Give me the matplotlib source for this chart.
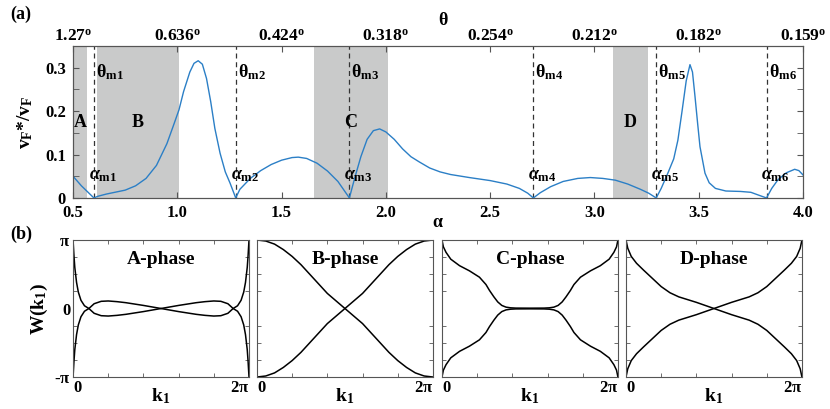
import numpy as np
import matplotlib
matplotlib.use("Agg")
import matplotlib.pyplot as plt
from matplotlib.ticker import MultipleLocator

plt.rcParams.update({
    "font.family": "Liberation Serif",
    "font.weight": "bold",
    "axes.labelweight": "bold",
    "mathtext.fontset": "custom",
    "mathtext.rm": "Liberation Serif:bold",
    "mathtext.it": "Liberation Serif:bold:italic",
    "mathtext.bf": "Liberation Serif:bold",
})

# ---- panel (a) data ----
alpha = [0.50, 0.54, 0.57, 0.60, 0.62, 0.66, 0.70, 0.75, 0.80, 0.85, 0.90, 0.95,
         0.98, 1.008, 1.03, 1.06, 1.08, 1.10, 1.12, 1.14, 1.16, 1.18, 1.205, 1.23,
         1.253, 1.28, 1.30, 1.35, 1.40, 1.45, 1.50, 1.55, 1.58, 1.62, 1.67, 1.72,
         1.77, 1.825, 1.85, 1.88, 1.91, 1.94, 1.97, 2.00, 2.04, 2.08, 2.12, 2.16,
         2.21, 2.26, 2.31, 2.40, 2.50, 2.58, 2.64, 2.68, 2.707, 2.74, 2.79, 2.85,
         2.92, 2.98, 3.04, 3.10, 3.16, 3.22, 3.26, 3.296, 3.32, 3.35, 3.38, 3.40,
         3.42, 3.44, 3.458, 3.47, 3.482, 3.495, 3.506, 3.53, 3.55, 3.58, 3.63,
         3.70, 3.75, 3.79, 3.825, 3.85, 3.88, 3.92, 3.96, 3.98, 4.00]
vf_ratio = [0.050, 0.028, 0.014, 0.000, 0.004, 0.009, 0.013, 0.018, 0.028, 0.045,
            0.075, 0.125, 0.165, 0.203, 0.245, 0.290, 0.310, 0.316, 0.308, 0.275,
            0.222, 0.160, 0.103, 0.060, 0.034, 0.000, 0.020, 0.045, 0.063, 0.077,
            0.087, 0.093, 0.094, 0.091, 0.080, 0.062, 0.038, 0.000, 0.045, 0.095,
            0.135, 0.155, 0.159, 0.152, 0.135, 0.113, 0.095, 0.083, 0.069, 0.060,
            0.054, 0.047, 0.040, 0.032, 0.022, 0.011, 0.000, 0.012, 0.026, 0.038,
            0.045, 0.047, 0.045, 0.041, 0.032, 0.020, 0.011, 0.000, 0.022, 0.055,
            0.090, 0.133, 0.200, 0.270, 0.307, 0.290, 0.234, 0.170, 0.118, 0.057,
            0.035, 0.022, 0.016, 0.015, 0.013, 0.006, 0.000, 0.022, 0.042, 0.058,
            0.066, 0.063, 0.053]

alpha_m = [0.60, 1.28, 1.825, 2.707, 3.296, 3.825]
phase_spans = [(0.5, 0.567), (0.613, 1.008), (1.657, 2.008), (3.089, 3.257)]
phase_names = ["A", "B", "C", "D"]
phase_label_x = [0.533, 0.81, 1.83, 3.17]

alpha_ticks = [0.5, 1.0, 1.5, 2.0, 2.5, 3.0, 3.5, 4.0]
theta_labels = ["1.27", "0.636", "0.424", "0.318", "0.254", "0.212", "0.182", "0.159"]

# ---- panel (b) data: W(k1)/pi for one band, other band is its mirror ----
k_frac = [0, 0.005, 0.01, 0.02, 0.03, 0.045, 0.065, 0.09, 0.12, 0.16, 0.2, 0.25,
          0.3, 0.4, 0.5, 0.6, 0.7, 0.75, 0.8, 0.84, 0.88, 0.91, 0.935, 0.955,
          0.97, 0.98, 0.99, 0.995, 1.0]
w_A = [1.0, 0.78, 0.6, 0.38, 0.24, 0.12, 0.04, 0.0, -0.07, -0.105, -0.11, -0.1,
       -0.085, -0.045, 0.0, 0.045, 0.085, 0.1, 0.11, 0.105, 0.07, 0.0, -0.04,
       -0.12, -0.24, -0.38, -0.6, -0.78, -1.0]

k_frac_B = [0, 0.05, 0.1, 0.15, 0.2, 0.25, 0.3, 0.35, 0.4, 0.45, 0.5, 0.55, 0.6,
            0.65, 0.7, 0.75, 0.8, 0.85, 0.9, 0.95, 1.0]
w_B = [1.0, 0.985, 0.94, 0.86, 0.76, 0.64, 0.5, 0.36, 0.22, 0.11, 0.0, -0.11,
       -0.22, -0.36, -0.5, -0.64, -0.76, -0.86, -0.94, -0.985, -1.0]

k_frac_C = [0, 0.008, 0.023, 0.05, 0.1, 0.156, 0.213, 0.25, 0.27, 0.295, 0.317,
            0.34, 0.364, 0.39, 0.42, 0.5, 0.58, 0.61, 0.636, 0.66, 0.683, 0.705,
            0.73, 0.75, 0.787, 0.844, 0.9, 0.95, 0.977, 0.992, 1.0]
w_C = [1.0, 0.9, 0.82, 0.72, 0.625, 0.55, 0.457, 0.35, 0.264, 0.17, 0.096, 0.045,
       0.02, 0.01, 0.006, 0.005, 0.006, 0.01, 0.02, 0.045, 0.096, 0.17, 0.264,
       0.35, 0.457, 0.55, 0.625, 0.72, 0.82, 0.9, 1.0]

k_frac_D = [0, 0.01, 0.03, 0.06, 0.1, 0.15, 0.2, 0.25, 0.3, 0.35, 0.4, 0.45, 0.5,
            0.55, 0.6, 0.65, 0.7, 0.75, 0.8, 0.85, 0.9, 0.94, 0.97, 0.99, 1.0]
w_D = [1.0, 0.88, 0.76, 0.66, 0.56, 0.44, 0.32, 0.23, 0.17, 0.13, 0.09, 0.045,
       0.0, -0.045, -0.09, -0.13, -0.17, -0.23, -0.32, -0.44, -0.56, -0.66,
       -0.76, -0.88, -1.0]

panels = [("A-phase", k_frac, w_A), ("B-phase", k_frac_B, w_B),
          ("C-phase", k_frac_C, w_C), ("D-phase", k_frac_D, w_D)]

spine_col = "#555555"
line_blue = "#2b7fc6"
shade = "#c9caca"

fig = plt.figure(figsize=(8.3, 4.09), dpi=100)

# ---- (a) ----
ax = fig.add_axes([0.088, 0.516, 0.8795, 0.3716])
for (a0, a1) in phase_spans:
    ax.axvspan(a0, a1, color=shade, lw=0, zorder=0)
for am in alpha_m:
    ax.axvline(am, color="#333333", lw=0.9, ls=(0, (4, 3)), zorder=1)
ax.plot(alpha, vf_ratio, color=line_blue, lw=1.0, zorder=3)

ax.set_xlim(0.5, 4.0)
ax.set_ylim(0, 0.35)
ax.set_xticks(alpha_ticks)
ax.set_xticklabels([f"{t:.1f}" for t in alpha_ticks])
ax.set_yticks([0, 0.1, 0.2, 0.3])
ax.set_yticklabels(["0", "0.1", "0.2", "0.3"])
ax.yaxis.set_minor_locator(MultipleLocator(0.05))
ax.tick_params(axis="both", which="both", direction="in", labelsize=12,
               color=spine_col)
ax.tick_params(axis="y", which="both", right=True, length=4, pad=5)
ax.tick_params(axis="x", which="major", length=4, pad=5)
for s in ax.spines.values():
    s.set_color(spine_col)

ax.set_xlabel(r"$\mathrm{\alpha}$", fontsize=13, labelpad=-5)
ax.set_ylabel(r"$\mathrm{v_F}$*/$\mathrm{v_F}$", fontsize=14, labelpad=7)

for name, xl in zip(phase_names, phase_label_x):
    ax.text(xl, 0.173, name, fontsize=13, fontweight="bold", ha="center",
            va="center", zorder=4)
for i, am in enumerate(alpha_m):
    ax.text(am + 0.01, 0.29, r"$\mathrm{\theta_{m%d}}$" % (i + 1), fontsize=13,
            ha="left", va="center", zorder=4)
    ax.text(am - 0.025, 0.052, r"$\mathit{\alpha}_{\mathrm{m%d}}$" % (i + 1),
            fontsize=13, ha="left", va="center", zorder=4)

axt = ax.twiny()
axt.set_xlim(ax.get_xlim())
axt.set_xticks(alpha_ticks)
axt.set_xticklabels([r"%s$^{\mathrm{o}}$" % t for t in theta_labels])
axt.tick_params(axis="x", direction="in", labelsize=12.5, length=4,
                color=spine_col, pad=1)
for s in axt.spines.values():
    s.set_color(spine_col)
fig.text(0.534, 0.950, r"$\mathrm{\theta}$", fontsize=13, ha="center", va="center")

fig.text(0.012, 0.966, "(a)", fontsize=13, fontweight="bold", va="center")
fig.text(0.012, 0.428, "(b)", fontsize=13, fontweight="bold", va="center")

# ---- (b) ----
lefts = [0.088, 0.3096, 0.5325, 0.7542]
for j, (title, kf, w) in enumerate(panels):
    bx = fig.add_axes([lefts[j], 0.0782, 0.212, 0.335])
    k = np.array(kf) * 2 * np.pi
    w = np.array(w) * np.pi
    bx.plot(k, w, color="black", lw=1.1)
    bx.plot(k, -w, color="black", lw=1.1)
    bx.set_xlim(0, 2 * np.pi)
    bx.set_ylim(-np.pi, np.pi)
    bx.set_xticks([0, 2 * np.pi])
    bx.set_xticklabels(["0", r"2$\mathrm{\pi}$"])
    lab = bx.get_xticklabels()
    lab[0].set_horizontalalignment("left")
    lab[1].set_horizontalalignment("right")
    bx.xaxis.set_minor_locator(MultipleLocator(2 * np.pi / 5))
    bx.yaxis.set_minor_locator(MultipleLocator(np.pi / 4))
    bx.set_yticks([-np.pi, 0, np.pi])
    if j == 0:
        bx.set_yticklabels([r"-$\mathrm{\pi}$", "0", r"$\mathrm{\pi}$"])
        bx.set_ylabel(r"W(k$_1$)", fontsize=14, labelpad=3)
    else:
        bx.set_yticklabels([])
    bx.tick_params(axis="both", which="both", direction="in", top=True,
                   right=True, labelsize=12, color=spine_col, pad=2)
    bx.tick_params(axis="both", which="major", length=0)
    bx.tick_params(axis="both", which="minor", length=3)
    for s in bx.spines.values():
        s.set_color(spine_col)
    bx.set_xlabel(r"k$_1$", fontsize=14, labelpad=-7)
    bx.text(np.pi, 0.71 * np.pi, title, fontsize=14, fontweight="bold",
            ha="center", va="center")

fig.savefig("out.png", dpi=100)
